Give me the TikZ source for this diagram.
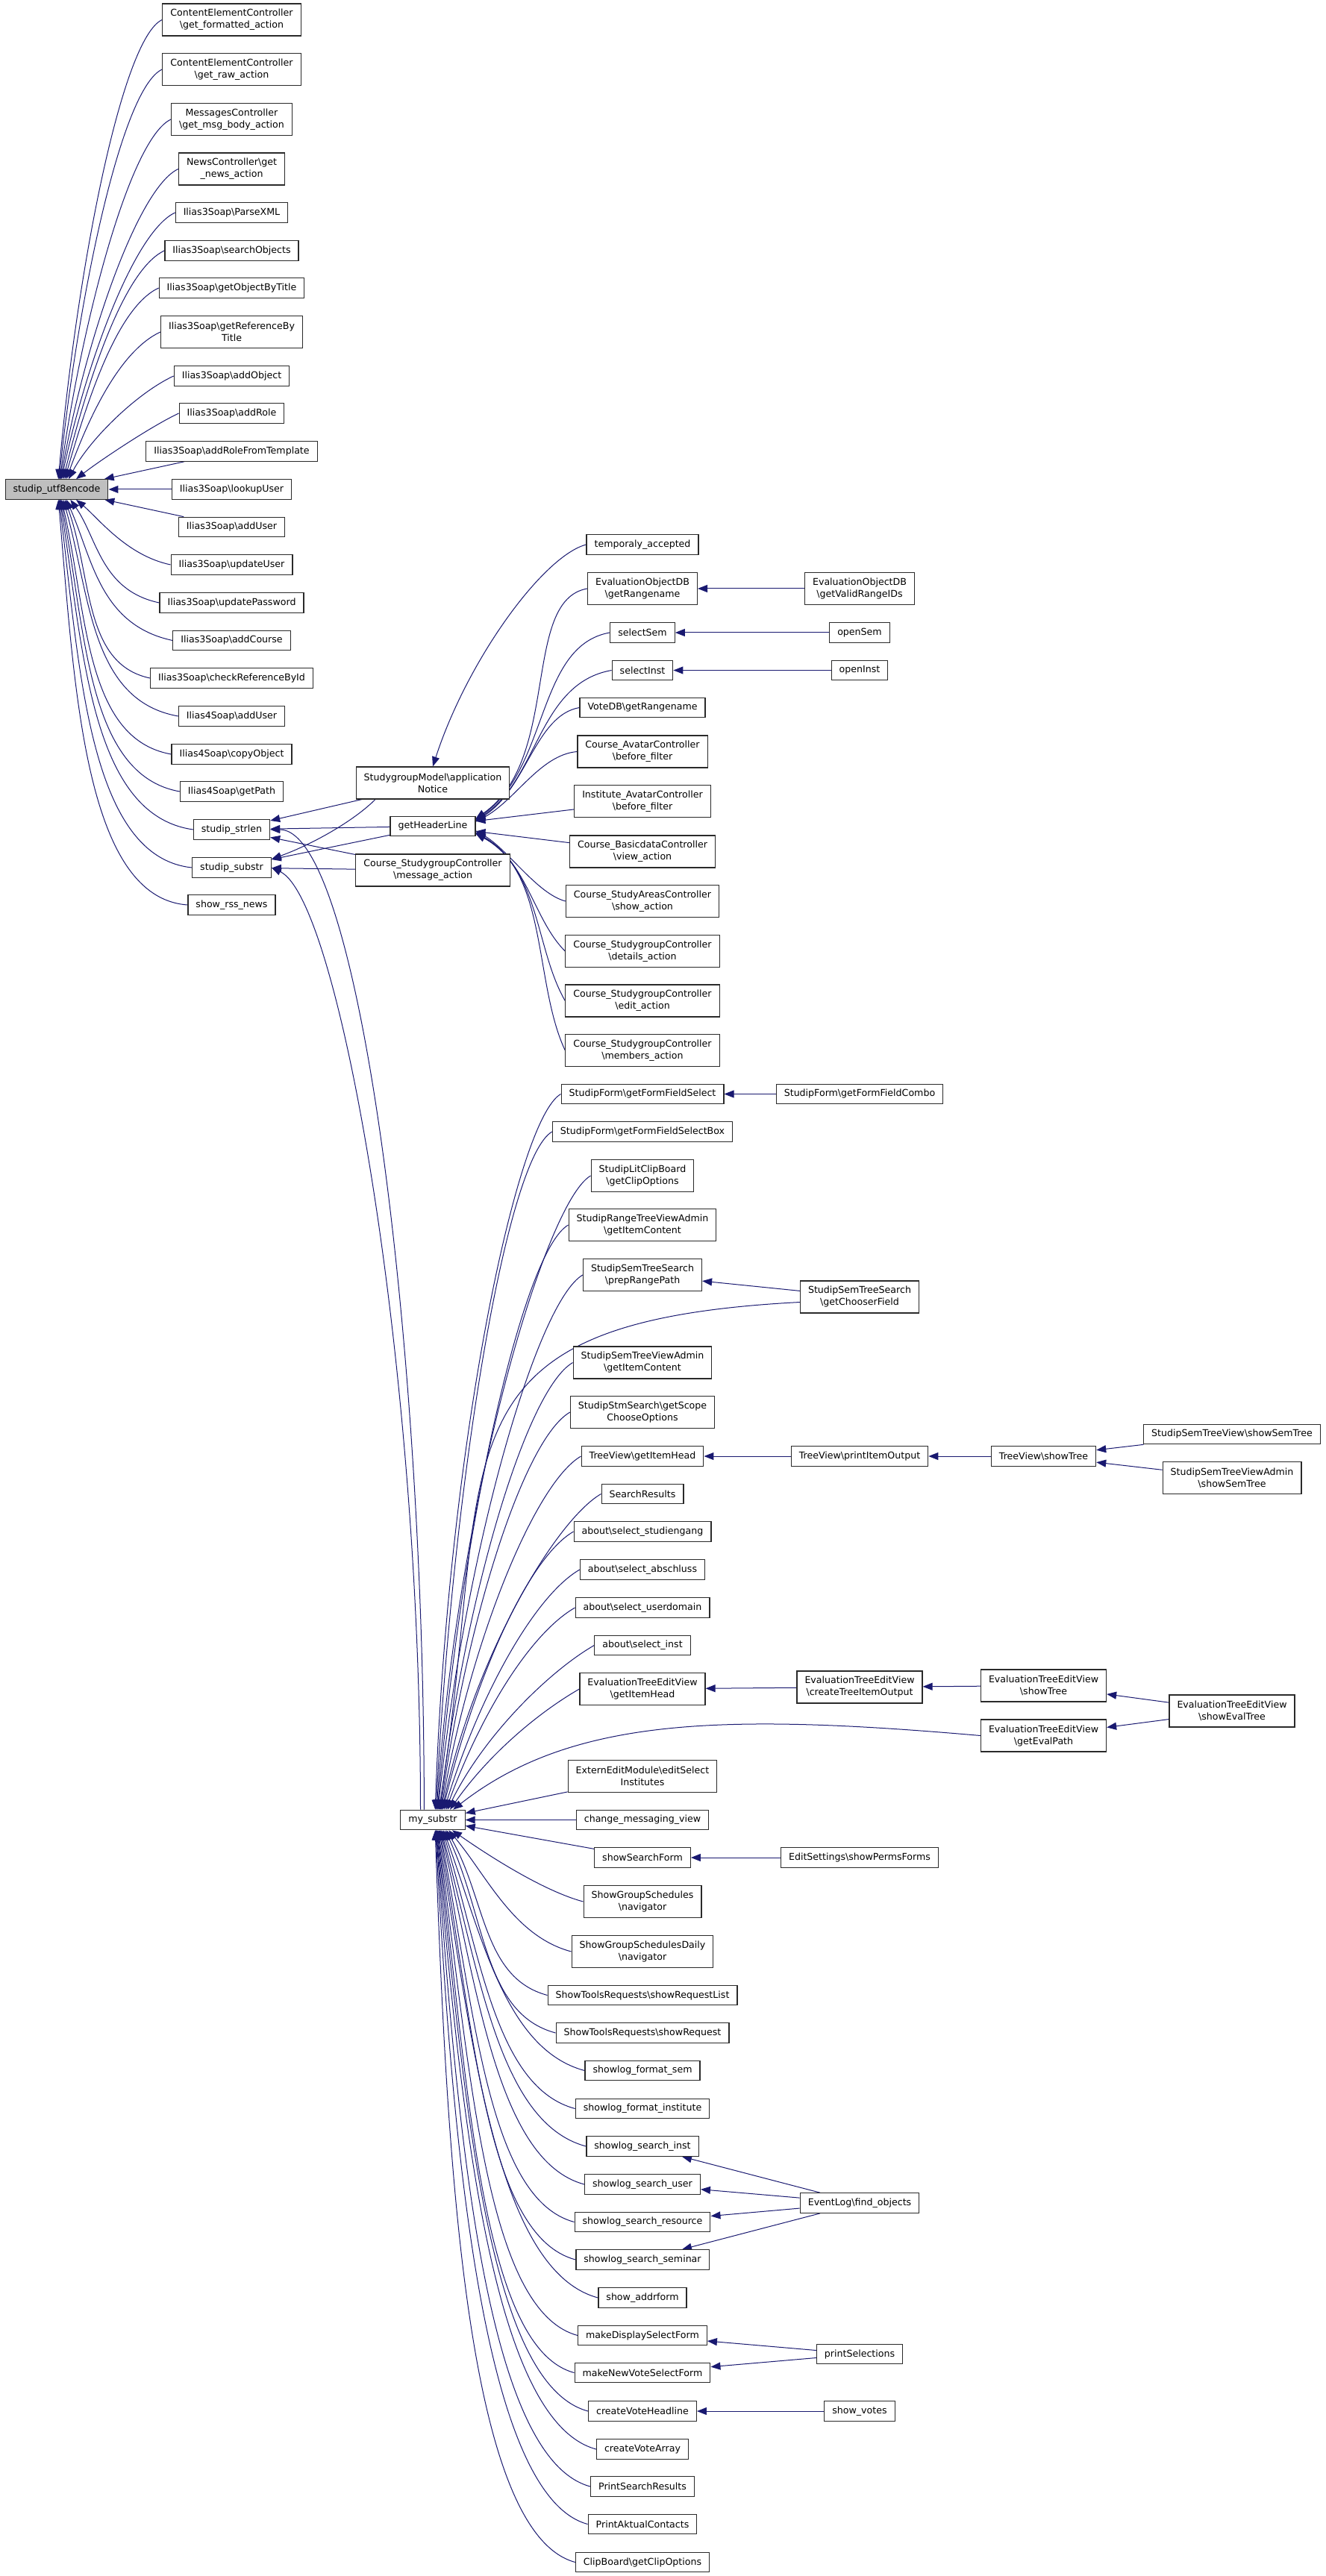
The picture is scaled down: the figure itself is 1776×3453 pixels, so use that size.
\documentclass[tikz,border=0pt]{standalone}
\usepackage{fontspec}
\setmainfont{DejaVu Sans}
\usetikzlibrary{arrows.meta}

\definecolor{edgeblue}{HTML}{191970}
\definecolor{boxline}{HTML}{2A2A2A}
\definecolor{rootgray}{HTML}{BFBFBF}
\newcommand{\bsl}{\textbackslash}
\pgfdeclarelayer{edges}
\pgfsetlayers{edges,main}

\tikzset{
	fn/.style={draw=boxline, line width=0.3pt, fill=white, inner xsep=2.625pt, inner ysep=0.5pt,
		minimum height=6.625pt, align=center, font=\fontsize{3.15}{4}\selectfont},
	fntwo/.style={fn, minimum height=10.75pt},
	rootfn/.style={fn, fill=rootgray},
	call/.style={draw=edgeblue, line width=0.25pt, -{Triangle[length=3.25pt,width=2.5pt]}}
}

\begin{document}
\begin{tikzpicture}[x=0.25pt,y=0.25pt]

	\useasboundingbox (0,0) rectangle (1776,-3453);

	\node[rootfn] (utf) at (76,-656) {studip\_utf8encode};

	\node[fntwo] (cefa) at (310.5,-26.5) {ContentElementController\\\bsl get\_formatted\_action};
	\node[fntwo] (cera) at (310.5,-93) {ContentElementController\\\bsl get\_raw\_action};
	\node[fntwo] (mcgm) at (310.5,-160) {MessagesController\\\bsl get\_msg\_body\_action};
	\node[fntwo] (ncgn) at (310.5,-226.5) {NewsController\bsl get\\\_news\_action};
	\node[fn] (ixml) at (310.5,-285) {Ilias3Soap\bsl ParseXML};
	\node[fn] (iso) at (310.5,-336) {Ilias3Soap\bsl searchObjects};
	\node[fn] (iobt) at (310.5,-386) {Ilias3Soap\bsl getObjectByTitle};
	\node[fntwo] (irbt) at (310.5,-445) {Ilias3Soap\bsl getReferenceBy\\Title};
	\node[fn] (iao) at (310.5,-504) {Ilias3Soap\bsl addObject};
	\node[fn] (iar) at (310.5,-554) {Ilias3Soap\bsl addRole};
	\node[fn] (iarft) at (310.5,-605) {Ilias3Soap\bsl addRoleFromTemplate};
	\node[fn] (ilu) at (310.5,-656) {Ilias3Soap\bsl lookupUser};
	\node[fn] (iau) at (310.5,-706.5) {Ilias3Soap\bsl addUser};
	\node[fn] (iuu) at (310.5,-757) {Ilias3Soap\bsl updateUser};
	\node[fn] (iup) at (310.5,-808) {Ilias3Soap\bsl updatePassword};
	\node[fn] (iac) at (310.5,-858.5) {Ilias3Soap\bsl addCourse};
	\node[fn] (icr) at (310.5,-909) {Ilias3Soap\bsl checkReferenceById};
	\node[fn] (jau) at (310.5,-960) {Ilias4Soap\bsl addUser};
	\node[fn] (jco) at (310.5,-1011) {Ilias4Soap\bsl copyObject};
	\node[fn] (jgp) at (310.5,-1061) {Ilias4Soap\bsl getPath};
	\node[fn] (strlen) at (310.5,-1112) {studip\_strlen};
	\node[fn] (substr) at (310.5,-1163) {studip\_substr};
	\node[fn] (rss) at (310.5,-1213) {show\_rss\_news};

	\node[fntwo] (appnot) at (580,-1049.5) {StudygroupModel\bsl application\\Notice};
	\node[fn] (ghl) at (580,-1107.5) {getHeaderLine};
	\node[fntwo] (msgact) at (580,-1166.5) {Course\_StudygroupController\\\bsl message\_action};
	\node[fn] (mysub) at (580,-2439.5) {my\_substr};

	\node[fn] (tmpacc) at (861,-730) {temporaly\_accepted};
	\node[fntwo] (eorn) at (861,-789) {EvaluationObjectDB\\\bsl getRangename};
	\node[fn] (selsem) at (861,-848) {selectSem};
	\node[fn] (selinst) at (861,-898.5) {selectInst};
	\node[fn] (vrn) at (861,-948.5) {VoteDB\bsl getRangename};
	\node[fntwo] (cabf) at (861,-1007.5) {Course\_AvatarController\\\bsl before\_filter};
	\node[fntwo] (iabf) at (861,-1074) {Institute\_AvatarController\\\bsl before\_filter};
	\node[fntwo] (cbva) at (861,-1141.5) {Course\_BasicdataController\\\bsl view\_action};
	\node[fntwo] (csasa) at (861,-1208) {Course\_StudyAreasController\\\bsl show\_action};
	\node[fntwo] (csgda) at (861,-1275) {Course\_StudygroupController\\\bsl details\_action};
	\node[fntwo] (csgea) at (861,-1341.5) {Course\_StudygroupController\\\bsl edit\_action};
	\node[fntwo] (csgma) at (861,-1408) {Course\_StudygroupController\\\bsl members\_action};

	\node[fn] (sffs) at (861,-1466.5) {StudipForm\bsl getFormFieldSelect};
	\node[fn] (sffsb) at (861,-1517) {StudipForm\bsl getFormFieldSelectBox};
	\node[fntwo] (slcb) at (861,-1576) {StudipLitClipBoard\\\bsl getClipOptions};
	\node[fntwo] (srtva) at (861,-1642) {StudipRangeTreeViewAdmin\\\bsl getItemContent};
	\node[fntwo] (sstsp) at (861,-1709) {StudipSemTreeSearch\\\bsl prepRangePath};
	\node[fntwo] (sstva) at (861,-1826.5) {StudipSemTreeViewAdmin\\\bsl getItemContent};
	\node[fntwo] (sssco) at (861,-1893) {StudipStmSearch\bsl getScope\\ChooseOptions};
	\node[fn] (tvgih) at (861,-1952) {TreeView\bsl getItemHead};
	\node[fn] (srchres) at (861,-2002.5) {SearchResults};
	\node[fn] (abstud) at (861,-2053) {about\bsl select\_studiengang};
	\node[fn] (ababs) at (861,-2104) {about\bsl select\_abschluss};
	\node[fn] (abdom) at (861,-2155) {about\bsl select\_userdomain};
	\node[fn] (abinst) at (861,-2205.5) {about\bsl select\_inst};
	\node[fntwo] (etgih) at (861,-2264) {EvaluationTreeEditView\\\bsl getItemHead};
	\node[fntwo] (eemesi) at (861,-2381) {ExternEditModule\bsl editSelect\\Institutes};
	\node[fn] (cmv) at (861,-2439.5) {change\_messaging\_view};
	\node[fn] (ssf) at (861,-2490) {showSearchForm};
	\node[fntwo] (gsnav) at (861,-2549) {ShowGroupSchedules\\\bsl navigator};
	\node[fntwo] (gsdnav) at (861,-2616) {ShowGroupSchedulesDaily\\\bsl navigator};
	\node[fn] (strl) at (861,-2674.5) {ShowToolsRequests\bsl showRequestList};
	\node[fn] (str) at (861,-2725) {ShowToolsRequests\bsl showRequest};
	\node[fn] (lfs) at (861,-2775.5) {showlog\_format\_sem};
	\node[fn] (lfi) at (861,-2826.5) {showlog\_format\_institute};
	\node[fn] (lsi) at (861,-2877) {showlog\_search\_inst};
	\node[fn] (lsu) at (861,-2928) {showlog\_search\_user};
	\node[fn] (lsr) at (861,-2978.5) {showlog\_search\_resource};
	\node[fn] (lss) at (861,-3029) {showlog\_search\_seminar};
	\node[fn] (addr) at (861,-3080) {show\_addrform};
	\node[fn] (mdsf) at (861,-3130.5) {makeDisplaySelectForm};
	\node[fn] (mnvsf) at (861,-3180.5) {makeNewVoteSelectForm};
	\node[fn] (cvh) at (861,-3232) {createVoteHeadline};
	\node[fn] (cva) at (861,-3283) {createVoteArray};
	\node[fn] (psr) at (861,-3333) {PrintSearchResults};
	\node[fn] (pac) at (861,-3383.5) {PrintAktualContacts};
	\node[fn] (cbgco) at (861,-3434.5) {ClipBoard\bsl getClipOptions};

	\node[fntwo] (eovr) at (1152,-789) {EvaluationObjectDB\\\bsl getValidRangeIDs};
	\node[fn] (opensem) at (1152,-848) {openSem};
	\node[fn] (openinst) at (1152,-898.5) {openInst};
	\node[fn] (sffc) at (1152,-1466.5) {StudipForm\bsl getFormFieldCombo};
	\node[fntwo] (sstgc) at (1152,-1738.5) {StudipSemTreeSearch\\\bsl getChooserField};
	\node[fn] (tvpio) at (1152,-1952) {TreeView\bsl printItemOutput};
	\node[fntwo] (etcto) at (1152,-2261.5) {EvaluationTreeEditView\\\bsl createTreeItemOutput};
	\node[fn] (espf) at (1152,-2490) {EditSettings\bsl showPermsForms};
	\node[fn] (elfo) at (1152,-2953) {EventLog\bsl find\_objects};
	\node[fn] (psel) at (1152,-3155.5) {printSelections};
	\node[fn] (svotes) at (1152,-3232) {show\_votes};

	\node[fn] (tvst) at (1398.5,-1952) {TreeView\bsl showTree};
	\node[fntwo] (etst) at (1398.5,-2259.5) {EvaluationTreeEditView\\\bsl showTree};
	\node[fntwo] (etgep) at (1398.5,-2326.5) {EvaluationTreeEditView\\\bsl getEvalPath};

	\node[fn] (sstvss) at (1651,-1922.5) {StudipSemTreeView\bsl showSemTree};
	\node[fntwo] (sstvass) at (1651,-1981) {StudipSemTreeViewAdmin\\\bsl showSemTree};
	\node[fntwo] (etset) at (1651,-2293.5) {EvaluationTreeEditView\\\bsl showEvalTree};

	\begin{pgfonlayer}{edges}
	% callers of studip_utf8encode
	\draw[call] (cefa.west) to[out=205,in=85,out distance=15pt,in distance=69.25pt] (utf.81);
	\draw[call] (cera.west) to[out=205,in=84,out distance=15pt,in distance=61.75pt] (utf.77);
	\draw[call] (mcgm.west) to[out=205,in=82,out distance=15pt,in distance=54.25pt] (utf.73);
	\draw[call] (ncgn.west) to[out=205,in=80,out distance=15pt,in distance=47pt] (utf.69);
	\draw[call] (ixml.west) to[out=205,in=78,out distance=15pt,in distance=40.25pt] (utf.65);
	\draw[call] (iso.west) to[out=205,in=76,out distance=15pt,in distance=34.5pt] (utf.58);
	\draw[call] (iobt.west) to[out=205,in=74,out distance=15pt,in distance=29pt] (utf.52);
	\draw[call] (irbt.west) to[out=205,in=70,out distance=15pt,in distance=22.25pt] (utf.47);
	\draw[call] (iao.west) to[out=205,in=62,out distance=13.75pt,in distance=15pt] (utf.41);
	\draw[call] (iar.west) to[out=205,in=38,out distance=10pt,in distance=10pt] (utf.28);
	\draw[call] (iarft) -- (utf);
	\draw[call] (ilu) -- (utf);
	\draw[call] (iau) -- (utf);
	\draw[call] (iuu.west) to[out=168,in=-40,out distance=15pt,in distance=10pt] (utf.-28);
	\draw[call] (iup.west) to[out=168,in=-55,out distance=20pt,in distance=15.75pt] (utf.-37);
	\draw[call] (iac.west) to[out=168,in=-66,out distance=25pt,in distance=21.25pt] (utf.-47);
	\draw[call] (icr.west) to[out=168,in=-70,out distance=23pt,in distance=27pt] (utf.-52);
	\draw[call] (jau.west) to[out=170,in=-74,out distance=30pt,in distance=32.75pt] (utf.-58);
	\draw[call] (jco.west) to[out=170,in=-77,out distance=29.5pt,in distance=38.5pt] (utf.-65);
	\draw[call] (jgp.west) to[out=170,in=-79,out distance=31.75pt,in distance=44pt] (utf.-69);
	\draw[call] (strlen.west) to[out=172,in=-81,out distance=35pt,in distance=49.75pt] (utf.-73);
	\draw[call] (substr.west) to[out=174,in=-83,out distance=35pt,in distance=55.5pt] (utf.-77);
	\draw[call] (rss.west) to[out=176,in=-85,out distance=35pt,in distance=61.25pt] (utf.-81);

	% callers of studip_strlen and studip_substr
	\draw[call] (appnot) -- (strlen);
	\draw[call] (appnot.196) to[out=225,in=20,out distance=10pt,in distance=15pt] (substr.12);
	\draw[call] (ghl) -- (strlen);
	\draw[call] (ghl) -- (substr);
	\draw[call] (msgact) -- (strlen);
	\draw[call] (msgact) -- (substr);
	\draw[call] (mysub.130) to[out=90,in=0,out distance=155pt,in distance=30pt] (strlen.east);
	\draw[call] (mysub.140) to[out=90,in=-25,out distance=150pt,in distance=25pt] (substr.east);

	\draw[call] (tmpacc.west) to[out=195,in=72,out distance=15pt,in distance=37.5pt] (appnot.north);

	% callers of getHeaderLine
	\draw[call] (eorn.west) to[out=190,in=35,out distance=22.5pt,in distance=35pt] (ghl.10);
	\draw[call] (selsem.west) to[out=190,in=35,out distance=25pt,in distance=30pt] (ghl.9);
	\draw[call] (selinst.west) to[out=190,in=33,out distance=25pt,in distance=25pt] (ghl.8);
	\draw[call] (vrn.west) to[out=190,in=32,out distance=15pt,in distance=20pt] (ghl.7);
	\draw[call] (cabf.west) to[out=185,in=28,out distance=12.5pt,in distance=15pt] (ghl.6);
	\draw[call] (iabf) -- (ghl);
	\draw[call] (cbva) -- (ghl);
	\draw[call] (csasa.west) to[out=165,in=-30,out distance=10pt,in distance=12.5pt] (ghl.-6);
	\draw[call] (csgda.west) to[out=135,in=-30,out distance=15pt,in distance=20pt] (ghl.-8);
	\draw[call] (csgea.west) to[out=120,in=-30,out distance=20pt,in distance=25pt] (ghl.-9);
	\draw[call] (csgma.west) to[out=115,in=-28,out distance=25pt,in distance=27.5pt] (ghl.-10);

	\draw[call] (eovr) -- (eorn);
	\draw[call] (opensem) -- (selsem);
	\draw[call] (openinst) -- (selinst);

	% callers of my_substr
	\draw[call] (sffs.west) to[out=210,in=88,out distance=17.5pt,in distance=120pt] (mysub.77);
	\draw[call] (sffsb.west) to[out=210,in=87,out distance=17.5pt,in distance=112.5pt] (mysub.73);
	\draw[call] (slcb.west) to[out=210,in=86,out distance=17.5pt,in distance=105pt] (mysub.70);
	\draw[call] (srtva.west) to[out=210,in=85,out distance=17.5pt,in distance=97.5pt] (mysub.66);
	\draw[call] (sstsp.west) to[out=210,in=84,out distance=17.5pt,in distance=88.75pt] (mysub.63);
	\draw[call] (sstgc.185) to[out=183,in=81,out distance=127.5pt,in distance=120.25pt] (mysub.59);
	\draw[call] (sstva.west) to[out=210,in=83,out distance=17.5pt,in distance=75pt] (mysub.56);
	\draw[call] (sssco.west) to[out=210,in=82,out distance=17.5pt,in distance=66.25pt] (mysub.53);
	\draw[call] (tvgih.west) to[out=210,in=80,out distance=17.5pt,in distance=58.75pt] (mysub.51);
	\draw[call] (srchres.west) to[out=210,in=78,out distance=17.5pt,in distance=52.5pt] (mysub.48);
	\draw[call] (abstud.west) to[out=210,in=76,out distance=17.5pt,in distance=46.25pt] (mysub.46);
	\draw[call] (ababs.west) to[out=210,in=73,out distance=17.5pt,in distance=40pt] (mysub.42);
	\draw[call] (abdom.west) to[out=210,in=70,out distance=17.5pt,in distance=33.75pt] (mysub.38);
	\draw[call] (abinst.west) to[out=210,in=64,out distance=17.5pt,in distance=27.5pt] (mysub.35);
	\draw[call] (etgih.west) to[out=210,in=55,out distance=17.5pt,in distance=21.25pt] (mysub.31);
	\draw[call] (etgep.west) to[out=175,in=38,out distance=87.5pt,in distance=50pt] (mysub.27);
	\draw[call] (eemesi) -- (mysub);
	\draw[call] (cmv) -- (mysub);
	\draw[call] (ssf) -- (mysub);
	\draw[call] (gsnav.west) to[out=165,in=-35,out distance=15pt,in distance=11.25pt] (mysub.-28);
	\draw[call] (gsdnav.west) to[out=165,in=-50,out distance=20pt,in distance=20pt] (mysub.-33);
	\draw[call] (strl.west) to[out=165,in=-60,out distance=22.5pt,in distance=26.25pt] (mysub.-37);
	\draw[call] (str.west) to[out=165,in=-65,out distance=25pt,in distance=32.5pt] (mysub.-40);
	\draw[call] (lfs.west) to[out=165,in=-70,out distance=27.5pt,in distance=37.5pt] (mysub.-44);
	\draw[call] (lfi.west) to[out=165,in=-73,out distance=27.5pt,in distance=43.75pt] (mysub.-47);
	\draw[call] (lsi.west) to[out=165,in=-75,out distance=30pt,in distance=50pt] (mysub.-51);
	\draw[call] (lsu.west) to[out=165,in=-77,out distance=30pt,in distance=55pt] (mysub.-53);
	\draw[call] (lsr.west) to[out=165,in=-79,out distance=30pt,in distance=61.25pt] (mysub.-56);
	\draw[call] (lss.west) to[out=165,in=-80,out distance=31.25pt,in distance=67.5pt] (mysub.-59);
	\draw[call] (addr.west) to[out=165,in=-81,out distance=35pt,in distance=72.5pt] (mysub.-63);
	\draw[call] (mdsf.west) to[out=165,in=-82,out distance=32.5pt,in distance=78.75pt] (mysub.-66);
	\draw[call] (mnvsf.west) to[out=165,in=-83,out distance=32.5pt,in distance=85pt] (mysub.-68);
	\draw[call] (cvh.west) to[out=165,in=-84,out distance=35pt,in distance=90pt] (mysub.-70);
	\draw[call] (cva.west) to[out=165,in=-85,out distance=36.25pt,in distance=96.25pt] (mysub.-72);
	\draw[call] (psr.west) to[out=165,in=-86,out distance=36.25pt,in distance=102.5pt] (mysub.-73);
	\draw[call] (pac.west) to[out=165,in=-87,out distance=36.25pt,in distance=107.5pt] (mysub.-75);
	\draw[call] (cbgco.west) to[out=165,in=-88,out distance=37.5pt,in distance=113.75pt] (mysub.-77);

	% further callers
	\draw[call] (sffc) -- (sffs);
	\draw[call] (sstgc) -- (sstsp);
	\draw[call] (tvpio) -- (tvgih);
	\draw[call] (tvst) -- (tvpio);
	\draw[call] (sstvss) -- (tvst);
	\draw[call] (sstvass) -- (tvst);
	\draw[call] (etcto) -- (etgih);
	\draw[call] (etst) -- (etcto);
	\draw[call] (etset) -- (etst);
	\draw[call] (etset) -- (etgep);
	\draw[call] (espf) -- (ssf);
	\draw[call] (elfo) -- (lsi);
	\draw[call] (elfo) -- (lsu);
	\draw[call] (elfo) -- (lsr);
	\draw[call] (elfo) -- (lss);
	\draw[call] (psel) -- (mdsf);
	\draw[call] (psel) -- (mnvsf);
	\draw[call] (svotes) -- (cvh);
	\end{pgfonlayer}

\end{tikzpicture}
\end{document}
